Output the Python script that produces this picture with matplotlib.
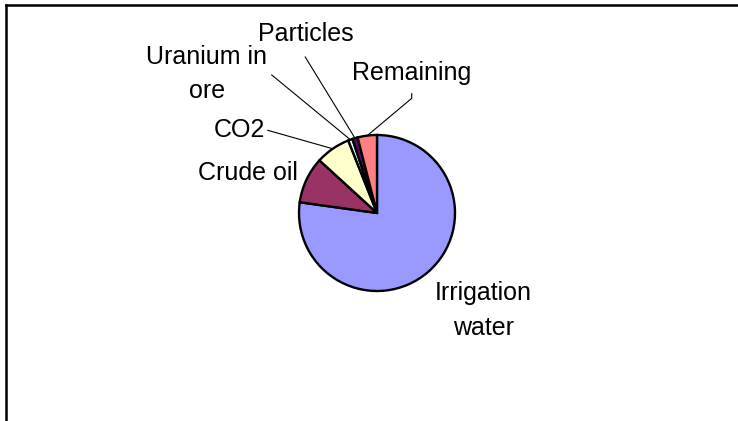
import numpy as np
from matplotlib import pyplot as plt
from matplotlib.lines import Line2D

# slice data (percent)
labels = ["Irrigation\nwater", "Crude oil", "CO2", "Uranium in\nore", "Particles", "Remaining"]
shares = [77.2, 9.6, 7.2, 0.9, 1.1, 4.0]
colors = ["#9999FF", "#993366", "#FFFFCC", "#CCFFFF", "#660066", "#FF8080"]

# label layout (pie radius = 1), leader start points (None = no leader)
label_pos = [(1.36, -1.25), (-1.65, 0.51), (-1.76, 1.06), (-2.18, 1.78), (-0.91, 2.29), (0.45, 1.80)]
leader_from = [None, None, [(-1.40, 1.06)], [(-1.35, 1.77)], [(-0.92, 2.00)],
               [(0.445, 1.53), (0.445, 1.47)]]

W, H = 738, 421
cx, cy, r = 377, 421 - 213, 78

plt.rcParams['font.family'] = ['Liberation Sans', 'DejaVu Sans']
fig = plt.figure(figsize=(W / 100, H / 100), dpi=100)
ax = fig.add_axes([(cx - r) / W, (cy - r) / H, 2 * r / W, 2 * r / H])

wedges, _ = ax.pie(shares, colors=colors, startangle=90, counterclock=False,
                   wedgeprops=dict(edgecolor="black", linewidth=1.7))
ax.set_xlim(-1, 1)
ax.set_ylim(-1, 1)
ax.set_aspect("equal")
ax.axis("off")

for w, lab, pos, src in zip(wedges, labels, label_pos, leader_from):
    ax.text(pos[0], pos[1], lab, ha="center", va="center", fontsize=18,
            linespacing=1.55, clip_on=False)
    if src is not None:
        mid = np.deg2rad((w.theta1 + w.theta2) / 2)
        xs = [p[0] for p in src] + [np.cos(mid)]
        ys = [p[1] for p in src] + [np.sin(mid)]
        ax.add_line(Line2D(xs, ys, color="black", linewidth=0.8, clip_on=False))

# chart frame, only top and left edges are visible
top = (H - 5) / H
left = 6.5 / W
fig.add_artist(Line2D([left, 1], [top, top], color="black", linewidth=1.8,
                      transform=fig.transFigure))
fig.add_artist(Line2D([left, left], [0, top], color="black", linewidth=1.8,
                      transform=fig.transFigure))

fig.savefig("out.png", dpi=100)
